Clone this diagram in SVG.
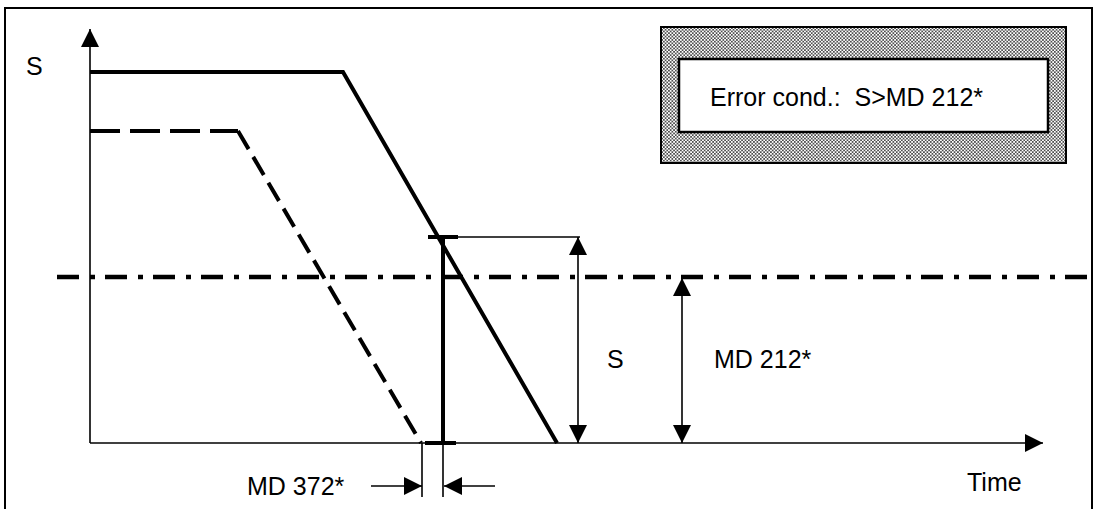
<svg xmlns="http://www.w3.org/2000/svg" width="1098" height="509" viewBox="0 0 1098 509">
<style>
.t{font-family:"Liberation Sans",Arial,sans-serif;font-size:25px;fill:#000}
.thin{stroke:#000;stroke-width:1.6;fill:none}
.thick{stroke:#000;stroke-width:4;fill:none}
</style>
<defs>
<pattern id="dots" width="3.4" height="3.4" patternUnits="userSpaceOnUse">
<rect width="3.4" height="3.4" fill="#fff"/>
<circle cx="0.85" cy="0.85" r="0.8" fill="#000"/>
<circle cx="2.55" cy="2.55" r="0.8" fill="#000"/>
</pattern>
<marker id="ah" viewBox="0 0 18 18" refX="18" refY="9" markerWidth="18" markerHeight="18" markerUnits="userSpaceOnUse" orient="auto-start-reverse">
<path d="M0,0 L18,9 L0,18 Z" fill="#000"/>
</marker>
</defs>
<rect x="5" y="8" width="1087" height="520" fill="#fff" stroke="#000" stroke-width="2"/>
<g id="legend">
<rect x="661" y="27" width="405" height="136" fill="url(#dots)" stroke="#000" stroke-width="2"/>
<rect x="679" y="59" width="369" height="73" fill="#fff" stroke="#000" stroke-width="2.5"/>
<text class="t" x="710" y="106" xml:space="preserve" style="white-space:pre">Error cond.:  S&gt;MD 212*</text>
</g>
<g id="connectors">
<line class="thin" x1="90" y1="443" x2="90" y2="29" marker-end="url(#ah)"/>
<line class="thin" x1="90" y1="443" x2="1043" y2="443" marker-end="url(#ah)"/>
<path class="thick" d="M90,72 H343 L557,443"/>
<path class="thick" d="M90,131 H238" stroke-dasharray="30 10"/>
<path class="thick" d="M238,131 L421,443" stroke-dasharray="21 9"/>
<line x1="57" y1="277" x2="1087" y2="277" stroke="#000" stroke-width="4.5" stroke-dasharray="22 11 5 10"/>
<line class="thick" x1="443" y1="237" x2="443" y2="443"/>
<line class="thick" x1="428" y1="237" x2="458" y2="237"/>
<line class="thick" x1="425" y1="443" x2="456" y2="443"/>
<line class="thin" x1="443" y1="237" x2="580" y2="237"/>
<line class="thin" x1="578" y1="237" x2="578" y2="443" marker-start="url(#ah)" marker-end="url(#ah)"/>
<line class="thin" x1="682" y1="278" x2="682" y2="443" marker-start="url(#ah)" marker-end="url(#ah)"/>
<line class="thin" x1="422" y1="443" x2="422" y2="497"/>
<line class="thin" x1="443" y1="443" x2="443" y2="497"/>
<line class="thin" x1="371" y1="486" x2="422" y2="486" marker-end="url(#ah)"/>
<line class="thin" x1="495" y1="486" x2="444" y2="486" marker-end="url(#ah)"/>
</g>
<g id="labels">
<text class="t" x="26" y="75">S</text>
<text class="t" x="607" y="368">S</text>
<text class="t" x="714" y="368">MD 212*</text>
<text class="t" x="247" y="495">MD 372*</text>
<text class="t" x="967" y="491">Time</text>
</g>
</svg>
